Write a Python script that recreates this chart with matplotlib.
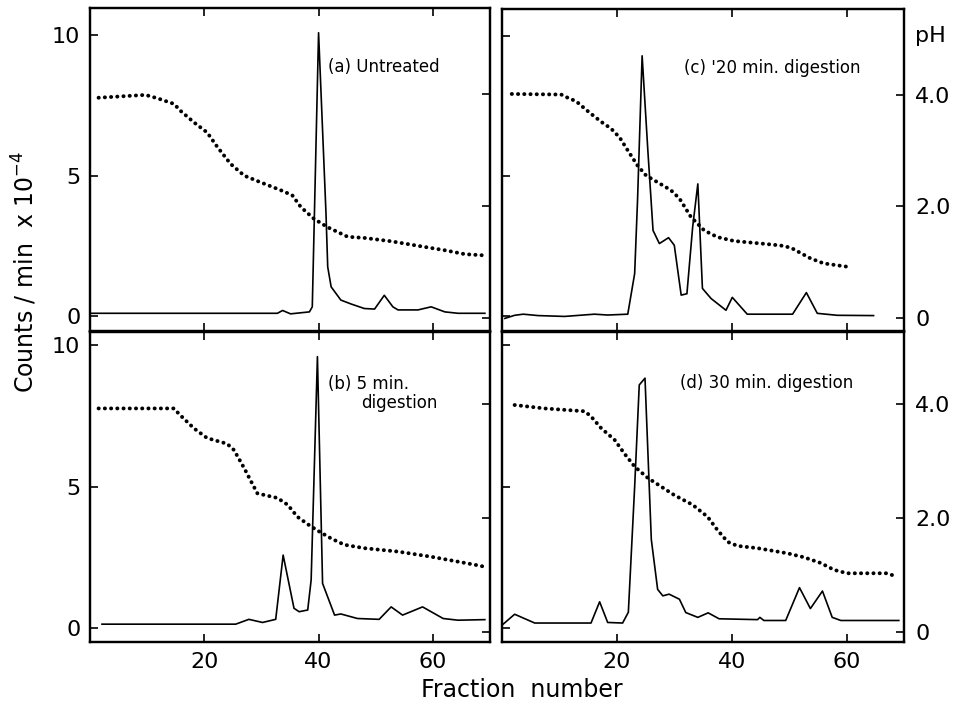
import matplotlib
matplotlib.use('Agg')
import matplotlib.pyplot as plt

plt.rcParams['font.family'] = ['DejaVu Sans']

# (a) untreated
a_x = [0.1, 32.8, 33.7, 35.1, 38.4, 38.9, 40.0, 41.3, 41.6, 42.2, 43.9, 45.7, 48.0, 49.8,
       51.5, 53.0, 53.9, 57.4, 59.7, 62.1, 64.4, 69.1]
a_counts = [0.1, 0.1, 0.2, 0.08, 0.15, 0.33, 10.08, 3.64, 1.75, 1.04, 0.57, 0.43, 0.27, 0.25,
            0.74, 0.33, 0.22, 0.22, 0.33, 0.15, 0.1, 0.1]
a_ph_x = [1.5, 9.7, 11.8, 14.7, 15.8, 18.2, 20.5, 22.3, 24.6, 27.0, 29.9, 33.4, 35.4, 36.9,
          39.2, 41.6, 45.1, 48.0, 52.7, 59.1, 62.1, 65.6, 68.8]
a_ph = [3.93, 3.98, 3.92, 3.82, 3.70, 3.49, 3.31, 3.05, 2.75, 2.54, 2.42, 2.28, 2.19, 1.98,
        1.77, 1.62, 1.45, 1.43, 1.37, 1.26, 1.21, 1.14, 1.12]

# (b) 5 min
b_x = [2.1, 25.5, 27.8, 30.2, 32.5, 33.8, 35.7, 36.6, 38.1, 38.7, 39.8, 40.7, 41.6, 42.8,
       43.9, 46.8, 50.6, 52.7, 54.7, 58.2, 61.8, 64.4, 69.1]
b_counts = [0.14, 0.14, 0.31, 0.2, 0.31, 2.58, 0.7, 0.58, 0.64, 1.7, 9.59, 1.58, 1.1, 0.46,
            0.5, 0.34, 0.31, 0.75, 0.46, 0.75, 0.34, 0.28, 0.3]
b_ph_x = [1.5, 14.7, 15.6, 18.2, 20.5, 24.0, 25.2, 27.0, 28.4, 29.3, 32.8, 34.6, 36.3, 38.1,
          39.8, 42.2, 44.5, 48.0, 53.9, 59.7, 67.3, 68.8]
b_ph = [3.92, 3.92, 3.82, 3.57, 3.40, 3.30, 3.19, 2.87, 2.60, 2.43, 2.35, 2.23, 2.02, 1.89,
        1.78, 1.64, 1.53, 1.47, 1.41, 1.32, 1.18, 1.15]

# (c) 20 min
c_x = [0.5, 2.2, 3.7, 6.3, 10.9, 16.1, 18.4, 21.9, 23.1, 23.6, 24.4, 25.4, 26.3, 27.4, 29.0,
       30.0, 31.2, 32.2, 33.2, 34.1, 34.9, 36.4, 39.0, 40.1, 42.7, 50.6, 53.0, 54.9, 58.4, 64.7]
c_counts = [-0.08, 0.03, 0.07, 0.02, -0.01, 0.07, 0.04, 0.07, 1.52, 4.13, 9.29, 5.9, 3.06,
            2.59, 2.8, 2.53, 0.75, 0.8, 3.18, 4.72, 0.99, 0.63, 0.21, 0.67, 0.07, 0.07, 0.84,
            0.1, 0.03, 0.02]
c_ph_x = [1.7, 10.3, 11.5, 12.9, 15.2, 17.3, 19.0, 20.5, 21.9, 23.6, 25.1, 27.1, 29.4, 30.9,
          32.9, 35.2, 37.5, 40.4, 45.6, 48.5, 50.3, 53.7, 56.0, 60.1]
c_ph = [4.01, 4.0, 3.94, 3.88, 3.68, 3.51, 3.39, 3.23, 3.0, 2.73, 2.55, 2.43, 2.29, 2.14,
        1.81, 1.57, 1.45, 1.38, 1.33, 1.30, 1.26, 1.07, 0.98, 0.92]

# (d) 30 min
d_x = [0.2, 2.2, 5.7, 15.5, 17.0, 18.4, 21.0, 22.0, 23.1, 23.9, 24.9, 26.0, 27.1, 28.0, 29.1,
       30.9, 32.0, 34.1, 35.9, 37.8, 44.5, 44.9, 45.6, 49.4, 51.8, 53.7, 55.8, 57.5, 59.0, 69.1]
d_counts = [0.14, 0.49, 0.18, 0.18, 0.93, 0.2, 0.18, 0.56, 5.0, 8.59, 8.83, 3.13, 1.37, 1.14,
            1.2, 1.02, 0.55, 0.38, 0.54, 0.33, 0.3, 0.38, 0.27, 0.27, 1.43, 0.69, 1.31, 0.38,
            0.27, 0.27]
d_ph_x = [2.2, 7.4, 14.4, 15.5, 17.3, 19.6, 21.3, 23.1, 25.4, 27.7, 30.0, 33.2, 35.8, 37.5,
          39.3, 41.0, 44.5, 49.7, 52.6, 55.5, 57.8, 60.1, 67.0, 68.5]
d_ph = [3.98, 3.92, 3.87, 3.78, 3.57, 3.37, 3.13, 2.90, 2.70, 2.55, 2.40, 2.23, 2.02, 1.79,
        1.58, 1.51, 1.47, 1.38, 1.31, 1.21, 1.09, 1.03, 1.03, 0.98]

W, H = 955, 705
fig = plt.figure(figsize=(W / 100, H / 100), dpi=100)


def box(l, t, r, b):
    return [l / W, 1 - b / H, (r - l) / W, (b - t) / H]


panels = [
    # rect, x, counts, ph_x, ph, ylim counts, ylim ph, left?, bottom?, label, label pos
    (box(90, 8, 490, 331), a_x, a_counts, a_ph_x, a_ph, (-0.53, 10.96), (-0.23, 5.53), True, False,
     '(a) Untreated', (41.6, 8.87)),
    (box(90, 332, 490, 642), b_x, b_counts, b_ph_x, b_ph, (-0.49, 10.46), (-0.175, 5.26), True, True,
     '(b) 5 min.', (41.6, 8.64)),
    (box(502, 9, 904, 331), c_x, c_counts, c_ph_x, c_ph, (-0.53, 10.96), (-0.23, 5.53), False, False,
     "(c) '20 min. digestion", (31.7, 8.85)),
    (box(502, 332, 904, 642), d_x, d_counts, d_ph_x, d_ph, (-0.49, 10.46), (-0.175, 5.26), False, True,
     '(d) 30 min. digestion', (31.0, 8.65)),
]

for rect, x, cnt, phx, ph, ylc, ylp, left, bottom, label, lpos in panels:
    ax = fig.add_axes(rect)
    ax.plot(x, cnt, color='black', lw=1.2, solid_joinstyle='round')
    ax.set_xlim(0, 70)
    ax.set_ylim(*ylc)
    ax.set_xticks([20, 40, 60])
    ax.set_yticks([0, 5, 10])
    ax.tick_params(direction='in', top=True, length=6, width=1.2, labelsize=16, pad=7)
    if not bottom:
        ax.set_xticklabels([])
    if not left:
        ax.set_yticklabels([])
    ax.text(lpos[0], lpos[1], label, fontsize=12, va='center', ha='left')

    ax2 = ax.twinx()
    ax2.plot(phx, ph, color='black', lw=2.8, linestyle=(0, (0.05, 1.55)),
             dash_capstyle='round', solid_capstyle='round')
    ax2.set_ylim(*ylp)
    ax2.set_yticks([0, 2, 4])
    ax2.tick_params(direction='in', length=6, width=1.2, labelsize=16, pad=8)
    if left:
        ax2.set_yticklabels([])
    else:
        ax2.set_yticklabels(['0', '2.0', '4.0'])
    for a in (ax, ax2):
        for s in a.spines.values():
            s.set_linewidth(1.6)

    if label == '(b) 5 min.':
        ax.text(47.4, 7.95, 'digestion', fontsize=12, va='center', ha='left')

fig.text(915 / W, 1 - 36 / H, 'pH', fontsize=16, va='center', ha='left')
fig.text(522 / W, 1 - 690 / H, 'Fraction  number', fontsize=17, va='center', ha='center')
fig.text(25 / W, 1 - 272 / H, 'Counts / min  x 10$^{-4}$', fontsize=17, rotation=90,
         va='center', ha='center')

fig.savefig('out.png', dpi=100)
